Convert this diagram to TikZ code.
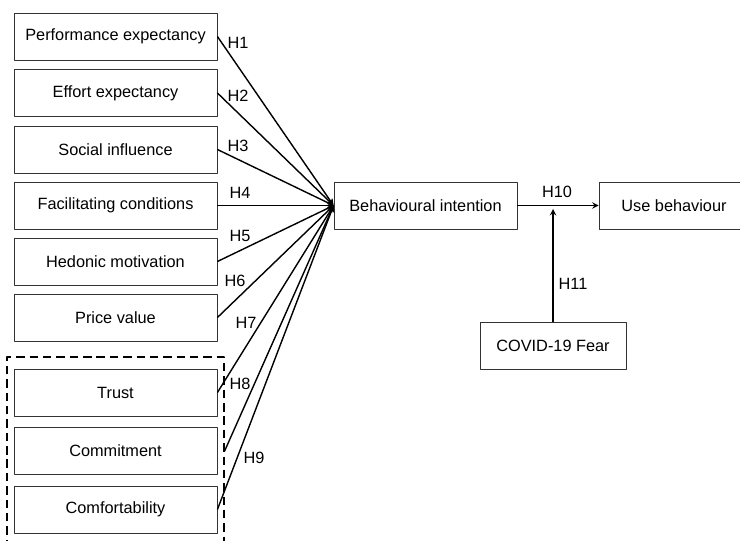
\documentclass[tikz,border=0pt]{standalone}
\usepackage{fontspec}
\setmainfont{Liberation Sans}
\begin{document}
\begin{tikzpicture}[line join=round,>=stealth,font=\fontsize{11.6}{13}\selectfont,scale=1,
	box/.style={draw=black!80,line width=0.6pt,minimum width=5.075cm,minimum height=1.175cm,inner sep=0pt},
	link/.style={->,line width=1pt}]
	\useasboundingbox (0,0) rectangle (18.5,13.5);
	\draw[dashed,line width=1pt,dash pattern=on 6pt off 3.5pt] (0.175,-0.2) rectangle (5.6,4.575);
	\node[box] (pe) at (2.8875,12.5875) {Performance expectancy};
	\node[box] (ee) at (2.8875,11.175) {Effort expectancy};
	\node[box] (si) at (2.8875,9.7625) {Social influence};
	\node[box] (fc) at (2.8875,8.3625) {Facilitating conditions};
	\node[box] (hm) at (2.8875,6.9625) {Hedonic motivation};
	\node[box] (pv) at (2.8875,5.5625) {Price value};
	\node[box] (tr) at (2.8875,3.6875) {Trust};
	\node[box] (cm) at (2.8875,2.225) {Commitment};
	\node[box] (cf) at (2.8875,0.7625) {Comfortability};
	\node[box,minimum width=4.575cm] (bi) at (10.6375,8.3625) {Behavioural intention};
	\node[box,minimum width=3.75cm] (ub) at (16.85,8.3625) {Use behaviour};
	\node[box,minimum width=3.65cm] (cv) at (13.825,4.8625) {COVID-19 Fear};
	\coordinate (mod) at (13.825,8.275);
	\draw[link] (pe.east)--(bi.west);
	\draw[link] (ee.east)--(bi.west);
	\draw[link] (si.east)--(bi.west);
	\draw[link] (fc.east)--(bi.west);
	\draw[link] (hm.east)--(bi.west);
	\draw[link] (pv.east)--(bi.west);
	\draw[link] (tr.east)--(bi.west);
	\draw[link] ([xshift=0.18cm]cm.east)--(bi.west);
	\draw[link] (cf.east)--(bi.west);
	\draw[link] (bi.east)--(ub.west);
	\draw[link] (cv.north)--(mod);
	\node (h1) at (5.95,12.425) {H1};
	\node (h2) at (5.95,11.1) {H2};
	\node (h3) at (5.95,9.85) {H3};
	\node (h4) at (6.0,8.675) {H4};
	\node (h5) at (6.0,7.6) {H5};
	\node (h6) at (5.875,6.475) {H6};
	\node (h7) at (6.15,5.425) {H7};
	\node (h8) at (6.0,3.9) {H8};
	\node (h9) at (6.35,2.05) {H9};
	\node (h10) at (13.925,8.7) {H10};
	\node (h11) at (14.325,6.4) {H11};
\end{tikzpicture}
\end{document}
